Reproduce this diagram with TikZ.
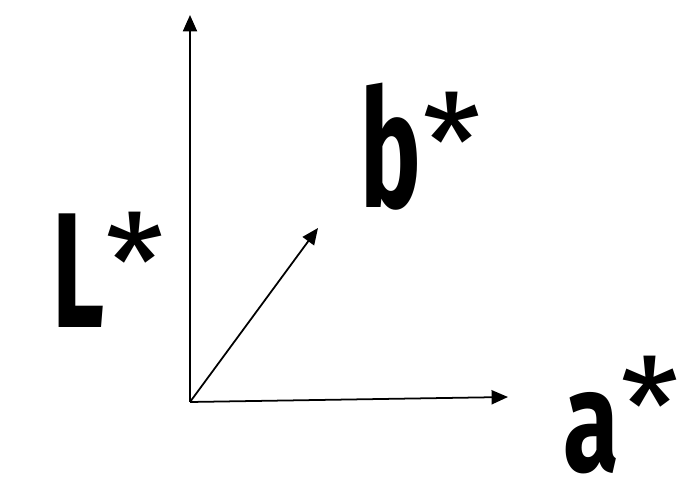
\documentclass[tikz,border=0pt]{standalone}
\usepackage{fontspec}
\setmainfont{Fira Sans}
\usetikzlibrary{arrows.meta,positioning}

% letter plus raised asterisk
\newcommand{\starlab}[2][1]{\scalebox{0.62}[#1]{\bfseries #2}\hspace{1pt}\raisebox{14pt}{\scalebox{0.82}{\mdseries *}}}

\begin{document}
\begin{tikzpicture}[x=0.03cm, y=-0.03cm,
    axis/.style={line width=1.5pt, -{Triangle[length=14pt, width=12pt]}},
    lab/.style={font=\fontsize{140}{140}\selectfont, inner sep=0pt, anchor=base west}]
\useasboundingbox (0,0) rectangle (686,480);
\coordinate (origin) at (190,402);
\coordinate (Ltip) at (190,15);
\coordinate (atip) at (508,397);
\coordinate (btip) at (318,228);
\draw[axis] (origin) -- (Ltip);
\draw[axis] (origin) -- (atip);
\draw[axis] (origin) -- (btip);
\node[lab] (Llab) at (52,328) {\starlab{L}};
\node[lab] (blab) at (360,208) {\starlab{b}};
\node[lab] (alab) at (563,472) {\starlab[0.88]{a}};
\end{tikzpicture}
\end{document}
